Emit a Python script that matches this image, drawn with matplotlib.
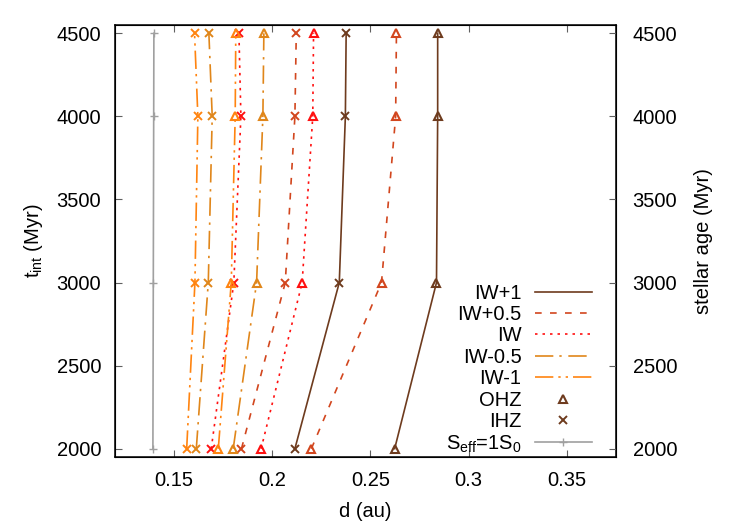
import matplotlib
matplotlib.use("Agg")
import matplotlib.pyplot as plt
from matplotlib.lines import Line2D

plt.rcParams['font.family'] = ['Liberation Sans', 'DejaVu Sans']
plt.rcParams['mathtext.fontset'] = 'custom'
plt.rcParams['mathtext.rm'] = 'Liberation Sans'
plt.rcParams['mathtext.it'] = 'Liberation Sans'

# times (Myr)
t = [2000, 3000, 4000, 4500]

# inner (IHZ) and outer (OHZ) edges, d (au), per buffer
names = ["IW+1", "IW+0.5", "IW", "IW-0.5", "IW-1"]
ihz = {
    "IW+1":   [0.2116, 0.2342, 0.2373, 0.2377],
    "IW+0.5": [0.1844, 0.2067, 0.2116, 0.2123],
    "IW":     [0.1690, 0.1805, 0.1841, 0.1831],
    "IW-0.5": [0.1614, 0.1675, 0.1695, 0.1678],
    "IW-1":   [0.1565, 0.1607, 0.1622, 0.1605],
}
ohz = {
    "IW+1":   [0.2624, 0.2837, 0.2843, 0.2843],
    "IW+0.5": [0.2200, 0.2557, 0.2629, 0.2633],
    "IW":     [0.1944, 0.2153, 0.2207, 0.2211],
    "IW-0.5": [0.1802, 0.1921, 0.1953, 0.1958],
    "IW-1":   [0.1726, 0.1792, 0.1812, 0.1815],
}
seff1 = [0.1393, 0.1395, 0.1397, 0.1398]

colors = {"IW+1": "#6e3b1e", "IW+0.5": "#d2461e", "IW": "#ff1010",
          "IW-0.5": "#e0861a", "IW-1": "#ff8410"}
styles = {"IW+1": "-", "IW+0.5": (0, (4, 5)), "IW": (0, (1.5, 3)),
          "IW-0.5": (0, (11, 3.6, 1.4, 4)),
          "IW-1": (0, (11, 3, 1.4, 3, 1.4, 3))}

fig = plt.figure(figsize=(7.5, 5.25), dpi=100)
ax = fig.add_axes([115 / 750, 68 / 525, 501 / 750, 432 / 525])
lw = 1.2
fs = 14.5

ax.plot(seff1, t, color="#a0a0a0", lw=lw, marker="+", ms=6, mew=1)
for n in names:
    c = colors[n]
    ax.plot(ihz[n], t, color=c, lw=lw, ls=styles[n], marker="x", ms=5.5, mew=1.4)
    ax.plot(ohz[n], t, color=c, lw=lw, ls=styles[n], marker="^", ms=6,
            mfc="none", mew=1.5)

ax.set_xlim(0.12, 0.3751)
ax.set_ylim(1950, 4550)
ax.set_xticks([0.15, 0.2, 0.25, 0.3, 0.35])
ax.set_xticklabels(["0.15", "0.2", "0.25", "0.3", "0.35"])
ax.set_yticks([2000, 2500, 3000, 3500, 4000, 4500])
ax.tick_params(direction="in", length=5, width=0.8, color="#606060",
               labelsize=fs, top=True, pad=10)
ax.set_xlabel("d (au)", fontsize=fs, labelpad=9)
ax.set_ylabel(r"t$_{\rm int}$ (Myr)", fontsize=fs, labelpad=8)
for s in ax.spines.values():
    s.set_linewidth(1.1)

ax2 = ax.twinx()
ax2.set_ylim(1950, 4550)
ax2.set_yticks([2000, 2500, 3000, 3500, 4000, 4500])
ax2.tick_params(direction="in", length=5, width=0.8, color="#606060",
                labelsize=fs, pad=12)
ax2.set_ylabel("stellar age (Myr)", fontsize=fs, labelpad=12)

handles = [Line2D([], [], color=colors[n], lw=lw, ls=styles[n]) for n in names]
handles.append(Line2D([], [], color=colors["IW+1"], ls="none", marker="^",
                      ms=6, mfc="none", mew=1.5))
handles.append(Line2D([], [], color=colors["IW+1"], ls="none", marker="x",
                      ms=5.5, mew=1.4))
handles.append(Line2D([], [], color="#a0a0a0", lw=lw, marker="+", ms=6, mew=1))
labels = names + ["OHZ", "IHZ", r"S$_{\rm eff}$=1S$_0$"]
leg = ax.legend(handles, labels, loc="lower right", frameon=False,
                markerfirst=False, fontsize=fs, handlelength=2.85,
                labelspacing=0.12, borderpad=0, borderaxespad=0,
                bbox_to_anchor=((592 - 115) / 501, 0.005),
                handletextpad=0.65)
for txt in leg.get_texts():
    txt.set_ha("right")

fig.savefig("out.png", dpi=100)
